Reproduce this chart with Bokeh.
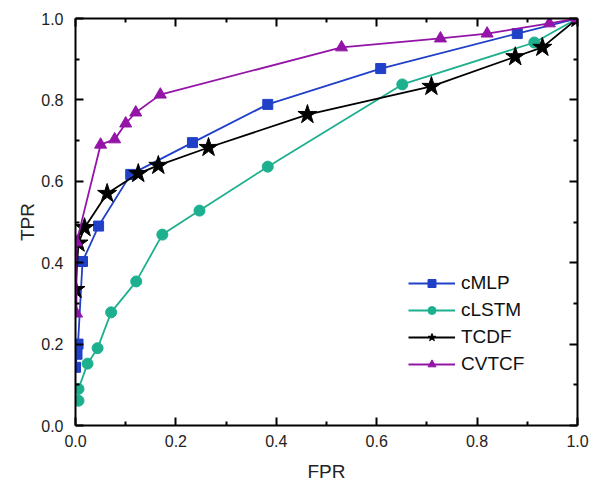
from bokeh.plotting import figure
from bokeh.models import LinearAxis, Range1d, FixedTicker, Legend, LegendItem, PrintfTickFormatter
from bokeh.embed import file_html
from bokeh.resources import INLINE

# Data
cmlp_fpr = [0.0, 0.003, 0.005, 0.014, 0.046, 0.11, 0.233, 0.383, 0.608, 0.88, 1.0]
cmlp_tpr = [0.143, 0.175, 0.2, 0.403, 0.49, 0.617, 0.695, 0.789, 0.877, 0.963, 1.0]

clstm_fpr = [0.006, 0.006, 0.024, 0.044, 0.071, 0.121, 0.173, 0.247, 0.383, 0.651, 0.914, 1.0]
clstm_tpr = [0.061, 0.09, 0.152, 0.19, 0.278, 0.354, 0.469, 0.528, 0.636, 0.838, 0.941, 1.0]

tcdf_fpr = [0.0, 0.006, 0.018, 0.063, 0.125, 0.165, 0.265, 0.462, 0.709, 0.876, 0.93, 1.0]
tcdf_tpr = [0.334, 0.448, 0.486, 0.57, 0.619, 0.639, 0.683, 0.764, 0.833, 0.906, 0.929, 1.0]

cvtcf_fpr = [0.002, 0.002, 0.05, 0.078, 0.1, 0.12, 0.169, 0.53, 0.727, 0.82, 0.944, 1.0]
cvtcf_tpr = [0.275, 0.45, 0.69, 0.703, 0.742, 0.769, 0.813, 0.929, 0.951, 0.963, 0.988, 1.0]

major_ticks = [0.0, 0.2, 0.4, 0.6, 0.8, 1.0]
minor_ticks = [0.1, 0.3, 0.5, 0.7, 0.9]

FONT = "Liberation Sans"

p = figure(width=595, height=483, output_backend="svg", toolbar_location=None,
           x_range=Range1d(0, 1), y_range=Range1d(0, 1),
           min_border_left=75, min_border_right=18, min_border_top=18, min_border_bottom=58,
           frame_width=502, frame_height=407)
p.background_fill_color = "white"
p.border_fill_color = "white"
p.outline_line_color = None
p.grid.visible = False

def style_axis(ax, labels=True):
    ax.ticker = FixedTicker(ticks=major_ticks, minor_ticks=minor_ticks)
    ax.formatter = PrintfTickFormatter(format="%.1f")
    ax.axis_line_width = 2
    ax.axis_line_color = "black"
    ax.major_tick_in = 8
    ax.major_tick_out = 0
    ax.minor_tick_in = 4
    ax.minor_tick_out = 0
    ax.major_tick_line_width = 2
    ax.minor_tick_line_width = 2
    ax.major_tick_line_color = "black"
    ax.minor_tick_line_color = "black"
    ax.major_label_text_font = FONT
    ax.major_label_text_font_size = "16px"
    ax.major_label_text_color = "#222222"
    ax.axis_label_text_font = FONT
    ax.axis_label_text_font_size = "19px"
    ax.axis_label_text_font_style = "normal"
    ax.axis_label_text_color = "#222222"
    if not labels:
        ax.major_label_text_alpha = 0
        ax.major_label_text_font_size = "0px"

style_axis(p.xaxis[0])
style_axis(p.yaxis[0])
p.xaxis[0].axis_label = "FPR"
p.yaxis[0].axis_label = "TPR"
p.xaxis[0].major_label_standoff = 9
p.yaxis[0].major_label_standoff = 12
p.xaxis[0].axis_label_standoff = 11
p.yaxis[0].axis_label_standoff = 0

top = LinearAxis()
style_axis(top, labels=False)
p.add_layout(top, "above")
right = LinearAxis()
style_axis(right, labels=False)
p.add_layout(right, "right")

series = [
    ("cMLP", cmlp_fpr, cmlp_tpr, "#2040c8", "square", 10),
    ("cLSTM", clstm_fpr, clstm_tpr, "#1db08e", "circle", 11),
    ("TCDF", tcdf_fpr, tcdf_tpr, "#000000", "star", 20),
    ("CVTCF", cvtcf_fpr, cvtcf_tpr, "#9414a8", "triangle", 12),
]

items = []
for name, xs, ys, col, mk, sz in series:
    ln = p.line(xs, ys, line_color=col, line_width=1.8)
    sc = p.scatter(xs, ys, marker=mk, size=sz, fill_color=col, line_color=col)
    items.append(LegendItem(label=name, renderers=[ln, sc]))

legend = Legend(items=items, location=(333, 50))
legend.border_line_color = None
legend.background_fill_alpha = 0
legend.padding = 0
legend.margin = 0
legend.spacing = 5
legend.glyph_width = 47
legend.glyph_height = 20
legend.label_height = 20
legend.label_standoff = 6
legend.label_text_font = FONT
legend.label_text_font_size = "19px"
legend.label_text_color = "#111111"
p.add_layout(legend, "center")

open("out.html", "w").write(file_html(p, INLINE))
